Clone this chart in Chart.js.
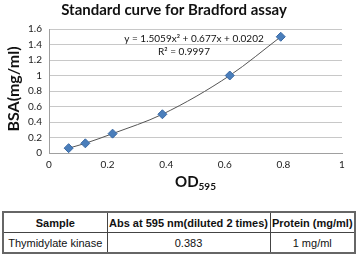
<!DOCTYPE html>
<html><head><meta charset="utf-8">
<script src="https://cdn.jsdelivr.net/npm/chart.js@4"></script>
<style>
html,body{margin:0;padding:0;background:#fff;width:359px;height:258px;overflow:hidden}
#wrap{position:absolute;left:0;top:0;width:359px;height:200px}
table{position:absolute;left:2px;top:211px;width:352px;table-layout:fixed;border-collapse:collapse;font-family:"Liberation Sans",Arial,sans-serif;font-size:11px;color:#111;border:2px solid #666}
td,th{border:1px solid #444;height:19px;padding:0;text-align:center;white-space:nowrap;overflow:hidden}
th{font-weight:bold}
</style></head><body>
<div id="wrap"><canvas id="c" width="359" height="200"></canvas></div>
<table>
<colgroup><col style="width:104px"><col style="width:163px"><col style="width:85px"></colgroup>
<tr><th>Sample</th><th>Abs at 595 nm(diluted 2 times)</th><th>Protein (mg/ml)</th></tr>
<tr><td>Thymidylate kinase</td><td>0.383</td><td>1 mg/ml</td></tr>
</table>
<script>
const odValues = [0.067, 0.124, 0.217, 0.387, 0.617, 0.791];
const bsaValues = [0.0625, 0.125, 0.25, 0.5, 1.0, 1.5];
const xTicks = [0, 0.2, 0.4, 0.6, 0.8, 1];
const yTicks = [0, 0.2, 0.4, 0.6, 0.8, 1, 1.2, 1.4, 1.6];
const equationText = "y = 1.5059x² + 0.677x + 0.0202";
const r2Text = "R² = 0.9997";

const pts = odValues.map((x, i) => ({x: x, y: bsaValues[i]}));
const FONT = 'Lato, "Open Sans", sans-serif';

const textPlugin = {
  id: 'texts',
  afterDraw(chart) {
    const ctx = chart.ctx;
    const ca = chart.chartArea;
    ctx.save();
    ctx.fillStyle = '#111';
    ctx.textAlign = 'center';
    ctx.textBaseline = 'middle';
    ctx.font = 'bold 15px ' + FONT;
    ctx.fillText('Standard curve for Bradford assay', 174, 10);
    ctx.font = '10px ' + FONT;
    ctx.fillText(equationText, 194, 39);
    ctx.fillText(r2Text, 184, 52);
    // y title
    ctx.save();
    ctx.translate(14, 89);
    ctx.rotate(-Math.PI / 2);
    ctx.font = 'bold 16px ' + FONT;
    ctx.fillText('BSA(mg/ml)', 0, 0);
    ctx.restore();
    // x title with subscript
    ctx.textAlign = 'left';
    ctx.font = 'bold 15px ' + FONT;
    const w1 = ctx.measureText('OD').width;
    ctx.font = 'bold 10px ' + FONT;
    const w2 = ctx.measureText('595').width;
    const x0 = (ca.left + ca.right) / 2 - (w1 + w2) / 2;
    ctx.font = 'bold 15px ' + FONT;
    ctx.fillText('OD', x0, 182);
    ctx.font = 'bold 10px ' + FONT;
    ctx.fillText('595', x0 + w1, 187);
    ctx.restore();
  }
};

new Chart(document.getElementById('c'), {
  type: 'scatter',
  data: {
    datasets: [
      {
        data: pts,
        showLine: true,
        borderColor: '#555',
        borderWidth: 1,
        cubicInterpolationMode: 'monotone',
        pointRadius: 0,
        order: 2
      },
      {
        data: pts,
        showLine: false,
        pointStyle: 'rectRot',
        pointRadius: 4.5,
        backgroundColor: '#4a7ebb',
        borderColor: '#3a6aa5',
        borderWidth: 1,
        order: 1
      }
    ]
  },
  options: {
    responsive: false,
    animation: false,
    events: [],
    layout: {padding: {top: 29, right: 17, left: 0, bottom: 0}},
    plugins: {legend: {display: false}, tooltip: {enabled: false}, title: {display: false}},
    scales: {
      x: {
        type: 'linear', min: 0, max: 1,
        afterBuildTicks(s) { s.ticks = xTicks.map(v => ({value: v})); },
        afterFit(s) { s.height = 47; },
        grid: {display: false, drawTicks: false},
        border: {display: true, color: '#a0a0a0', width: 1},
        ticks: {color: '#222', font: {size: 10, family: FONT}, padding: 6, maxRotation: 0,
                callback: v => String(v)}
      },
      y: {
        type: 'linear', min: 0, max: 1.6,
        afterBuildTicks(s) { s.ticks = yTicks.map(v => ({value: v})); },
        afterFit(s) { s.width = 49; },
        grid: {color: '#c8c8c8', drawTicks: false, lineWidth: 1},
        border: {display: true, color: '#a0a0a0', width: 1},
        ticks: {color: '#222', font: {size: 10, family: FONT}, padding: 7,
                callback: v => String(v)}
      }
    }
  },
  plugins: [textPlugin]
});
</script>
</body></html>
